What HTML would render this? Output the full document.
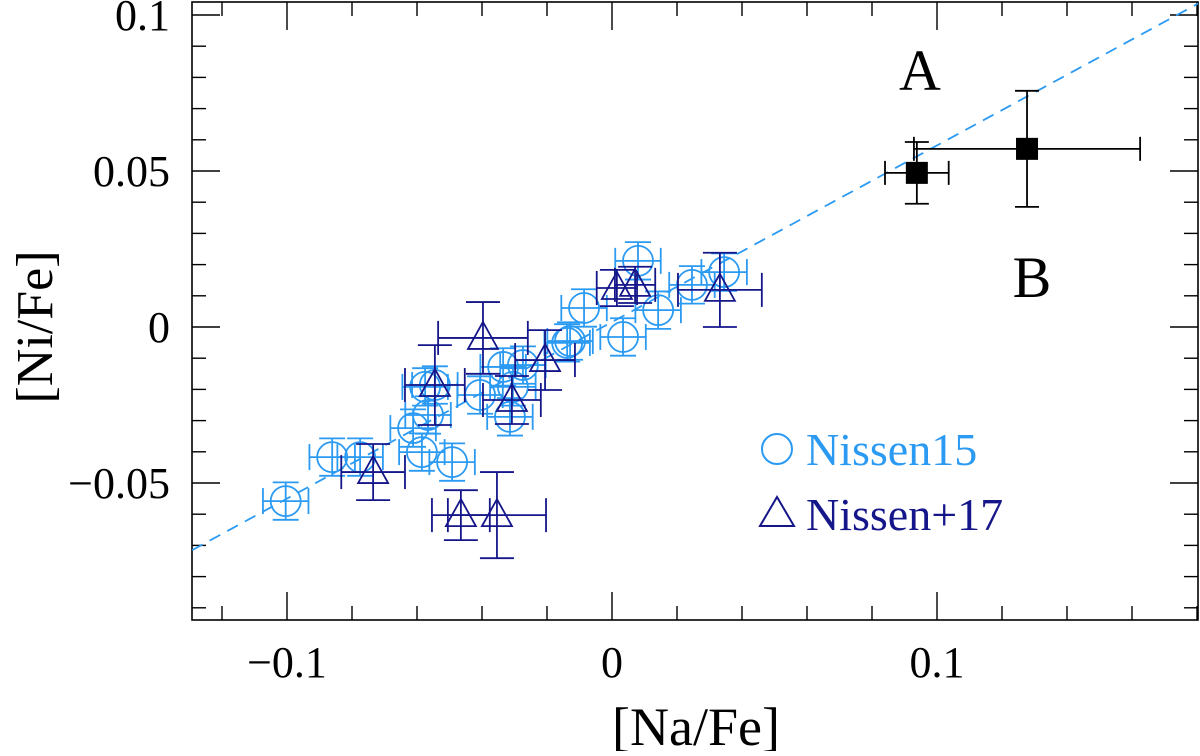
<!DOCTYPE html>
<html><head><meta charset="utf-8"><style>
html,body{margin:0;padding:0;background:#fff;}
svg text{font-family:"Liberation Serif",serif;}
</style></head><body>
<svg id="chart" width="1200" height="751" viewBox="0 0 1200 751" xmlns="http://www.w3.org/2000/svg">
<g id="g"></g>
</svg>
<script>
// data
const n15x=[-0.1004,-0.0861,-0.0775,-0.0585,-0.0492,-0.0575,-0.0545,-0.0566,-0.0612,-0.0406,-0.0335,-0.0274,-0.0305,-0.0314,-0.0138,-0.0129,-0.0086,0.0034,0.0080,0.0142,0.0246,0.0345];
const n15y=[-0.0558,-0.0417,-0.0417,-0.0401,-0.0433,-0.0192,-0.0186,-0.0282,-0.0324,-0.0218,-0.0128,-0.0122,-0.0192,-0.0288,-0.0051,-0.0045,0.0061,-0.0032,0.0212,0.0054,0.0135,0.0176];
const n17x=[-0.0735,-0.0545,-0.0397,-0.0308,-0.0206,-0.0465,-0.0354,0.0015,0.0071,0.0332];
const n17y=[-0.0465,-0.0186,-0.0035,-0.0234,-0.0106,-0.0603,-0.0603,0.0125,0.0135,0.0119];
const n17xe=[0.0098,0.0092,0.0138,0.0089,0.0092,0.0089,0.0151,0.0062,0.0062,0.0129];
const n17ye=[0.0090,0.0128,0.0115,0.0077,0.0096,0.0080,0.0138,0.0058,0.0058,0.0119];
const n15xe=0.0070, n15ye=0.0060;
const sqx=[0.0938,0.1277];
const sqy=[0.0494,0.0571];
const sqxe=[0.0098,0.0348];
const sqye=[0.0099,0.0186];
const xticks=[-0.1,0,0.1];
const xtickLabels=["\u22120.1","0","0.1"];
const yticks=[-0.05,0,0.05,0.1];
const ytickLabels=["\u22120.05","0","0.05","0.1"];
const lineSlope=0.566, lineIntercept=0.0016;

const L=192,R=1198,T=2,B=620;
const X=v=>612+v*3250;
const Y=v=>327-v*3120;
const g=document.getElementById('g');
const NS='http://www.w3.org/2000/svg';
function el(tag,attrs,parent){const e=document.createElementNS(NS,tag);for(const k in attrs)e.setAttribute(k,attrs[k]);(parent||g).appendChild(e);return e;}

const frame=el('rect',{x:L,y:T,width:R-L,height:B-T,fill:'none',stroke:'#000','stroke-width':1.6});



for(let i=-13;i<=18;i++){const v=i*0.01;const px=X(v);if(px<L||px>R)continue;
 const major=Math.abs(Math.round(v*100)%10)===0; const minor2=(i%2===0);
 if(!major&&!minor2)continue;
 const len=major?28:14;
 el('line',{x1:px,x2:px,y1:B,y2:B-len,stroke:'#000','stroke-width':1.4});
 el('line',{x1:px,x2:px,y1:T,y2:T+len,stroke:'#000','stroke-width':1.4});}
for(let i=-9;i<=10;i++){const v=i*0.01;const py=Y(v);if(py<T||py>B)continue;
 const major=(i%5===0);const len=major?28:14;
 el('line',{x1:L,x2:L+len,y1:py,y2:py,stroke:'#000','stroke-width':1.4});
 el('line',{x1:R,x2:R-len,y1:py,y2:py,stroke:'#000','stroke-width':1.4});}
xticks.forEach((v,i)=>{const t=el('text',{x:X(v),y:677,'text-anchor':'middle','font-size':44,fill:'#000'});t.textContent=xtickLabels[i];
 
 });
yticks.forEach((v,i)=>{const t=el('text',{x:170,y:Y(v)+15,'text-anchor':'end','font-size':44,fill:'#000'});t.textContent=ytickLabels[i];
 
 });
const xt=el('text',{x:696,y:745,'text-anchor':'middle','font-size':54,fill:'#000'});xt.textContent='[Na/Fe]';


const yt=el('text',{x:0,y:0,'text-anchor':'middle','font-size':52,fill:'#000',transform:'translate(52,327) rotate(-90)'});yt.textContent='[Ni/Fe]';



const defs=el('defs',{});const cp=el('clipPath',{id:'cp'},defs);el('rect',{x:L,y:T,width:R-L,height:B-T},cp);
const pg=el('g',{'clip-path':'url(#cp)'});

const x0=-0.14,x1=0.19;
const fl=el('line',{x1:X(x0),y1:Y(lineIntercept+lineSlope*x0),x2:X(x1),y2:Y(lineIntercept+lineSlope*x1),stroke:'#2b9af3','stroke-width':1.8,'stroke-dasharray':'12,8'},pg);



function errbar(x,y,xe,ye,col,cap,parent){
 const w=1.8;
 el('line',{x1:X(x-xe),x2:X(x+xe),y1:Y(y),y2:Y(y),stroke:col,'stroke-width':w},parent);
 el('line',{x1:X(x),x2:X(x),y1:Y(y-ye),y2:Y(y+ye),stroke:col,'stroke-width':w},parent);
 el('line',{x1:X(x-xe),x2:X(x-xe),y1:Y(y)-cap,y2:Y(y)+cap,stroke:col,'stroke-width':w},parent);
 el('line',{x1:X(x+xe),x2:X(x+xe),y1:Y(y)-cap,y2:Y(y)+cap,stroke:col,'stroke-width':w},parent);
 el('line',{x1:X(x)-cap,x2:X(x)+cap,y1:Y(y-ye),y2:Y(y-ye),stroke:col,'stroke-width':w},parent);
 el('line',{x1:X(x)-cap,x2:X(x)+cap,y1:Y(y+ye),y2:Y(y+ye),stroke:col,'stroke-width':w},parent);
}
const LB='#2b9af3',NV='#15168a';
n15x.forEach((x,i)=>{const y=n15y[i];
 const gg=el('g',{},pg);
 
 
 errbar(x,y,n15xe,n15ye,LB,13,gg);
 el('circle',{cx:X(x),cy:Y(y),r:15,fill:'none',stroke:LB,'stroke-width':1.8},gg);});
n17x.forEach((x,i)=>{const y=n17y[i];
 const gg=el('g',{},pg);
 
 
 errbar(x,y,n17xe[i],n17ye[i],NV,17,gg);
 const cx=X(x),cy=Y(y);
 el('polygon',{points:`${cx},${cy-16} ${cx-15},${cy+11} ${cx+15},${cy+11}`,fill:'none',stroke:NV,'stroke-width':1.8},gg);});
sqx.forEach((x,i)=>{const y=sqy[i];
 const gg=el('g',{},pg);
 
 
 errbar(x,y,sqxe[i],sqye[i],'#000',12,gg);
 el('rect',{x:X(x)-11,y:Y(y)-11,width:22,height:22,fill:'#000'},gg);});

const la=el('text',{x:920,y:90,'text-anchor':'middle','font-size':58,fill:'#000'});la.textContent='A';


const lb=el('text',{x:1032,y:297,'text-anchor':'middle','font-size':58,fill:'#000'});lb.textContent='B';



const lg1=el('g',{});


el('circle',{cx:777,cy:449,r:15,fill:'none',stroke:LB,'stroke-width':2},lg1);
const t1=el('text',{x:806,y:465,'font-size':46,fill:LB},lg1);t1.textContent='Nissen15';
const lg2=el('g',{});


el('polygon',{points:'777,497 760,526 794,526',fill:'none',stroke:NV,'stroke-width':2},lg2);
const t2=el('text',{x:806,y:530,'font-size':46,fill:NV},lg2);t2.textContent='Nissen+17';
</script>
</body></html>
